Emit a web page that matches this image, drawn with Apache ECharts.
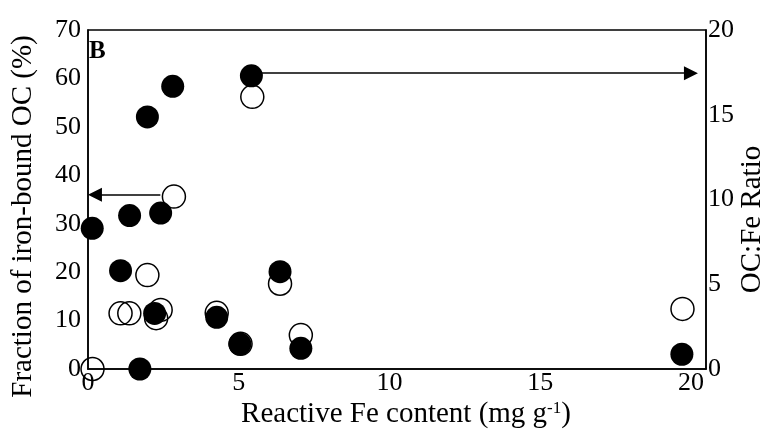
<!DOCTYPE html>
<html>
<head>
<meta charset="utf-8">
<script src="https://cdn.jsdelivr.net/npm/echarts@6/dist/echarts.min.js"></script>
<style>
  html, body { margin: 0; padding: 0; background: #fff; }
  #chart { width: 767px; height: 431px; }
</style>
</head>
<body>
<div id="chart"></div>
<script>
// Fraction of iron-bound OC (open circles, left axis)
const fracFe  = [0.15, 1.08, 1.37, 1.97, 2.26, 2.41, 2.85, 4.27, 5.06, 5.45, 6.37, 7.06, 19.72];
const fracPct = [0, 11.5, 11.5, 19.4, 10.5, 12.2, 35.6, 11.6, 5.2, 56.2, 17.6, 7.0, 12.4];

// OC:Fe molar ratio (filled circles, right axis)
const ratioFe   = [0.14, 1.08, 1.38, 1.72, 1.97, 2.21, 2.41, 2.81, 4.27, 5.04, 5.42, 6.37, 7.06, 19.70];
const ocFeRatio = [8.3, 5.8, 9.05, 0, 14.87, 3.28, 9.2, 16.68, 3.05, 1.47, 17.3, 5.74, 1.22, 0.87];

// Axis ranges and tick spacing
const xRange = [0, 20.5], xStep = 5;
const leftRange = [0, 70], leftStep = 10;
const rightRange = [0, 20], rightStep = 5;

// Arrows pointing each series to its axis
const leftArrow  = [[2.4, 36], [0.23, 36]];
const rightArrow = [[5.75, 17.45], [20.0, 17.45]];

const FONT = '"Liberation Serif", "Times New Roman", serif';
const pair = (xs, ys) => xs.map((x, i) => [x, ys[i]]);

const chart = echarts.init(document.getElementById('chart'), null, { renderer: 'canvas' });

const arrowLine = (pts) => ({
  silent: true,
  symbol: ['none', 'triangle'],
  symbolSize: 14,
  label: { show: false },
  lineStyle: { color: '#000', width: 1.5, type: 'solid' },
  emphasis: { disabled: true },
  animation: false,
  data: [[{ coord: pts[0] }, { coord: pts[1] }]]
});

chart.setOption({
  backgroundColor: '#fff',
  animation: false,
  textStyle: { fontFamily: FONT, color: '#000' },
  grid: {
    left: 88, right: 61, top: 30, bottom: 62,
    outerBoundsMode: 'none',
    containLabel: false,
    show: true, borderColor: '#000', borderWidth: 1.5, backgroundColor: 'transparent'
  },
  xAxis: {
    type: 'value',
    min: xRange[0], max: xRange[1], interval: xStep,
    axisLine: { show: true, onZero: false, lineStyle: { color: '#000', width: 1.5 } },
    axisTick: { show: false },
    splitLine: { show: false },
    axisLabel: { showMaxLabel: false, color: '#000', fontFamily: FONT, fontSize: 26, margin: 1 },
    name: 'Reactive Fe content (mg g{sup|-1})',
    nameLocation: 'middle',
    nameGap: 31,
    nameMoveOverlap: false,
    nameTextStyle: {
      color: '#000', fontFamily: FONT, fontSize: 29, padding: [0, 0, 0, 18],
      rich: { sup: { fontFamily: FONT, fontSize: 17, verticalAlign: 'top', color: '#000' } }
    }
  },
  yAxis: [
    {
      type: 'value',
      position: 'left',
      min: leftRange[0], max: leftRange[1], interval: leftStep,
      axisLine: { show: true, lineStyle: { color: '#000', width: 1.5 } },
      axisTick: { show: false },
      splitLine: { show: false },
      axisLabel: { color: '#000', fontFamily: FONT, fontSize: 26, margin: 7 },
      name: 'Fraction of iron-bound OC (%)',
      nameLocation: 'middle',
      nameRotate: 90,
      nameGap: 50,
      nameMoveOverlap: false,
      nameTextStyle: { color: '#000', fontFamily: FONT, fontSize: 29, padding: [0, 34, 0, 0] }
    },
    {
      type: 'value',
      position: 'right',
      min: rightRange[0], max: rightRange[1], interval: rightStep,
      axisLine: { show: true, lineStyle: { color: '#000', width: 1.5 } },
      axisTick: { show: false },
      splitLine: { show: false },
      axisLabel: { color: '#000', fontFamily: FONT, fontSize: 26, margin: 2 },
      name: 'OC:Fe Ratio',
      nameLocation: 'middle',
      nameRotate: 90,
      nameGap: 32,
      nameMoveOverlap: false,
      nameTextStyle: { color: '#000', fontFamily: FONT, fontSize: 29, padding: [0, 40, 0, 0] }
    }
  ],
  graphic: [{
    type: 'text',
    left: 89, top: 39,
    style: { text: 'B', fontFamily: FONT, fontWeight: 'bold', fontSize: 25, fill: '#000' }
  }],
  series: [
    {
      name: 'Fraction of iron-bound OC',
      type: 'scatter',
      yAxisIndex: 0,
      symbol: 'circle',
      symbolSize: 23,
      itemStyle: { color: 'rgba(255,255,255,0)', borderColor: '#000', borderWidth: 1.5, opacity: 1 },
      emphasis: { disabled: true },
      data: pair(fracFe, fracPct),
      markLine: arrowLine(leftArrow),
      z: 2
    },
    {
      name: 'OC:Fe Ratio',
      type: 'scatter',
      yAxisIndex: 1,
      symbol: 'circle',
      symbolSize: 23,
      itemStyle: { color: '#000', borderColor: '#000', borderWidth: 0, opacity: 1 },
      emphasis: { disabled: true },
      data: pair(ratioFe, ocFeRatio),
      markLine: arrowLine(rightArrow),
      z: 3
    }
  ]
});
</script>
</body>
</html>
